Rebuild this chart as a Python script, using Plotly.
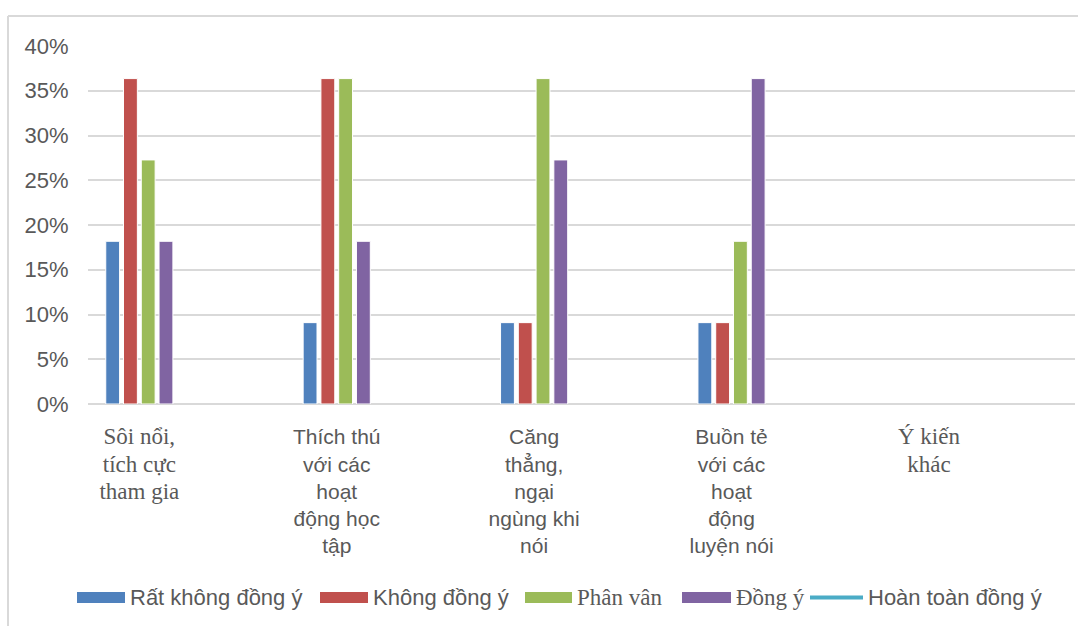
import plotly.graph_objects as go

# Survey categories (x axis) and the wrapped labels shown under each group
categories = ["Sôi nổi, tích cực tham gia",
              "Thích thú với các hoạt động học tập",
              "Căng thẳng, ngại ngùng khi nói",
              "Buồn tẻ với các hoạt động luyện nói",
              "Ý kiến khác"]
tick_labels = ["Sôi nổi,<br>tích cực<br>tham gia",
               "Thích thú<br>với các<br>hoạt<br>động học<br>tập",
               "Căng<br>thẳng,<br>ngại<br>ngùng khi<br>nói",
               "Buồn tẻ<br>với các<br>hoạt<br>động<br>luyện nói",
               "Ý kiến<br>khác"]
tick_serif = [True, False, False, False, True]

# Response shares (fraction of respondents)
series_names = ["Rất không đồng ý", "Không đồng ý", "Phân vân", "Đồng ý", "Hoàn toàn đồng ý"]
rat_khong_dong_y = [0.1818, 0.0909, 0.0909, 0.0909, None]
khong_dong_y = [0.3636, 0.3636, 0.0909, 0.0909, None]
phan_van = [0.2727, 0.3636, 0.3636, 0.1818, None]
dong_y = [0.1818, 0.1818, 0.2727, 0.3636, None]
hoan_toan_dong_y = [None, None, None, None, None]

SANS = "Liberation Sans, Arial, sans-serif"
SERIF = "Liberation Serif, Times New Roman, serif"
GREY = "#595959"
COLORS = ["#4F81BD", "#C0504D", "#9BBB59", "#8064A2", "#4BACC6"]
LEGEND_SERIF = [False, False, True, True, False]

# Plot-area geometry in pixels, used to place the hand-built legend and frame
W, H = 1087, 626
L, R, T, B = 88, 12, 46, 222
PW, PH = W - L - R, H - T - B


def px_x(px):
    return (px - L) / PW


def px_y(py):
    return (H - B - py) / PH


def styled(text, serif):
    if serif:
        return f"<span style='font-family:Liberation Serif;font-size:23px'>{text}</span>"
    return f"<span style='font-family:Liberation Sans'>{text}</span>"


fig = go.Figure()
for name, vals, color in zip(series_names[:4],
                             [rat_khong_dong_y, khong_dong_y, phan_van, dong_y],
                             COLORS[:4]):
    fig.add_trace(go.Bar(x=categories, y=vals, name=name, showlegend=False,
                         marker=dict(color=color, line=dict(color="white", width=1))))

fig.add_trace(go.Scatter(x=categories, y=hoan_toan_dong_y, mode="lines",
                         name=series_names[4], showlegend=False,
                         line=dict(color=COLORS[4], width=3)))

# Outer chart frame (left and top edges)
fig.add_shape(type="line", xref="paper", yref="paper",
              x0=px_x(8), x1=px_x(8), y0=px_y(16), y1=px_y(640),
              line=dict(color="#d9d9d9", width=2))
fig.add_shape(type="line", xref="paper", yref="paper",
              x0=px_x(8), x1=px_x(1078), y0=px_y(16), y1=px_y(16),
              line=dict(color="#d9d9d9", width=2))

# Legend row: wide swatches for the bar series, a line key for the last one
legend_swatch_px = [(77, 125), (320, 368), (525, 572), (682, 731), (810, 863)]
legend_y = 597.5
for i, (name, color) in enumerate(zip(series_names, COLORS)):
    x0, x1 = legend_swatch_px[i]
    if i < 4:
        fig.add_shape(type="rect", xref="paper", yref="paper",
                      x0=px_x(x0), x1=px_x(x1),
                      y0=px_y(legend_y - 5.5), y1=px_y(legend_y + 5.5),
                      fillcolor=color, line=dict(width=0))
    else:
        fig.add_shape(type="line", xref="paper", yref="paper",
                      x0=px_x(x0), x1=px_x(x1),
                      y0=px_y(legend_y), y1=px_y(legend_y),
                      line=dict(color=color, width=4))
    serif = LEGEND_SERIF[i]
    fig.add_annotation(xref="paper", yref="paper", x=px_x(x1 + 3), y=px_y(legend_y),
                       xanchor="left", yanchor="middle", showarrow=False,
                       text=name,
                       font=dict(family=SERIF if serif else SANS,
                                 size=23 if serif else 22, color=GREY))

fig.update_layout(
    width=W, height=H,
    margin=dict(l=L, r=R, t=T, b=B),
    paper_bgcolor="white", plot_bgcolor="white",
    barmode="group", bargap=0.64, bargroupgap=0.22,
    font=dict(family=SANS, color=GREY, size=21),
    showlegend=False,
)
fig.update_xaxes(
    type="category", range=[-0.26, 4.74],
    tickmode="array", tickvals=categories,
    ticktext=[styled(t, s) for t, s in zip(tick_labels, tick_serif)],
    tickangle=0, showgrid=False, showline=False, zeroline=False,
    ticks="outside", ticklen=14, tickcolor="rgba(0,0,0,0)",
    tickfont=dict(size=21, color=GREY),
)
fig.update_yaxes(
    range=[0, 0.4], dtick=0.05, tickformat=".0%",
    showgrid=True, gridcolor="#d9d9d9", gridwidth=1.5,
    zeroline=True, zerolinecolor="#d9d9d9", zerolinewidth=1.5,
    showline=False, ticks="outside", ticklen=14, tickcolor="rgba(0,0,0,0)",
    tickfont=dict(size=22, color=GREY),
)

fig.write_html("out.html")
